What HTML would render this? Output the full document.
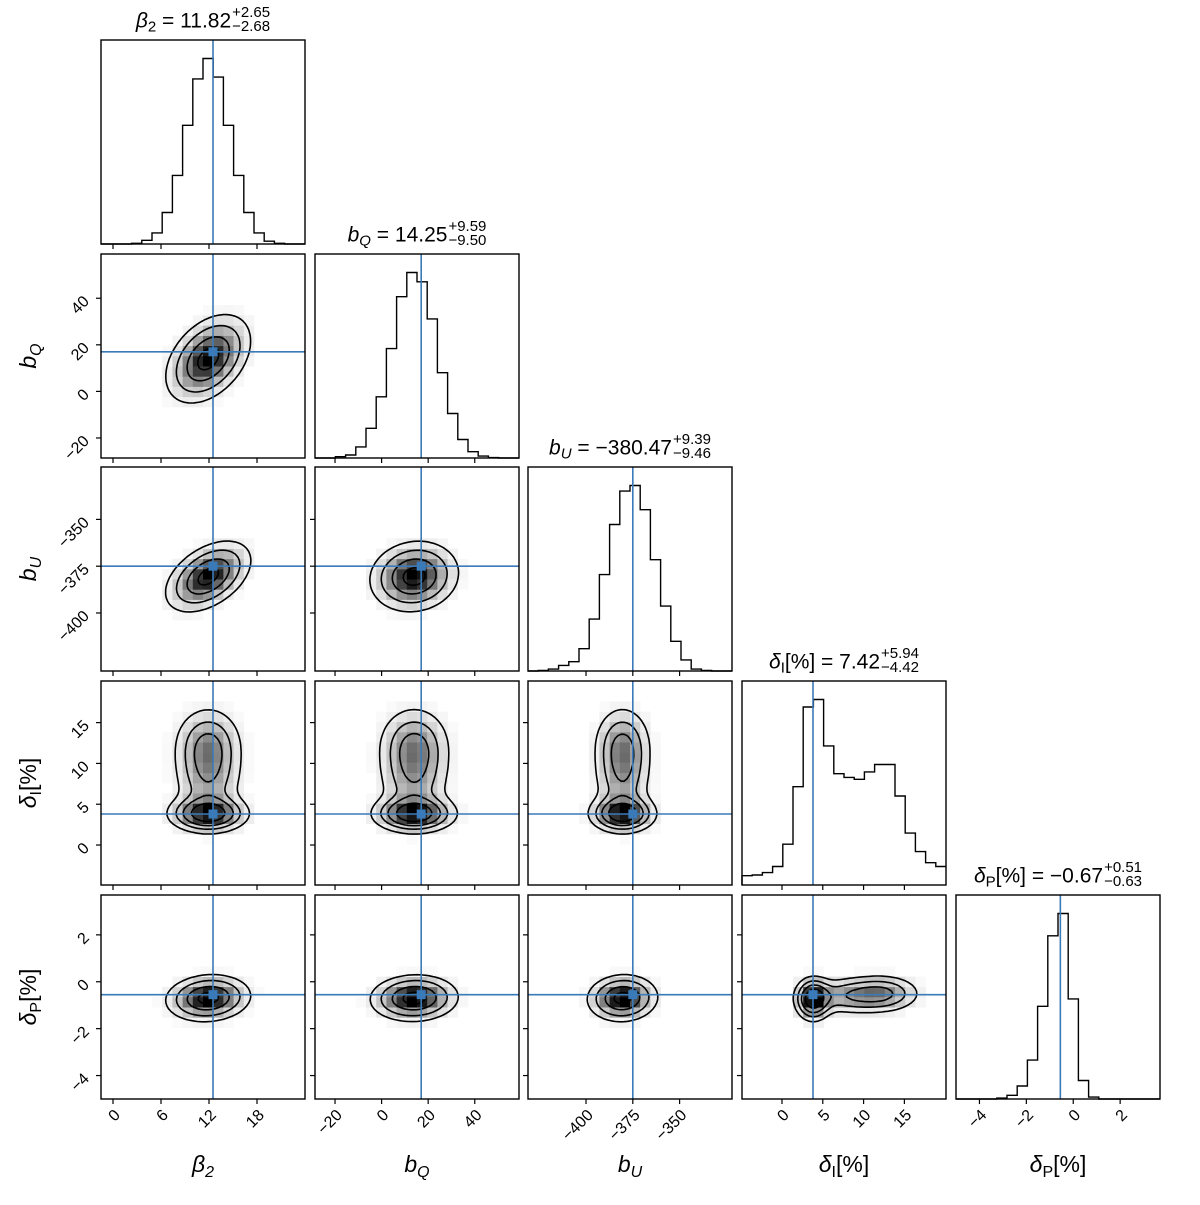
<!DOCTYPE html>
<html><head><meta charset="utf-8">
<style>
body{margin:0;background:#fff;}
#wrap{position:relative;width:1200px;height:1200px;font-family:"Liberation Sans","DejaVu Sans",sans-serif;}
.title{position:absolute;transform:translateX(-50%);font-size:21px;white-space:nowrap;color:#000;line-height:24px;}
.title sub{font-size:15px;vertical-align:-4px;}
.stk{display:inline-block;vertical-align:middle;font-size:15px;line-height:14px;margin-left:1px;position:relative;top:-2px;}
.stk span{display:block;}
svg text{font-family:"Liberation Sans","DejaVu Sans",sans-serif;}
</style></head>
<body>
<div id="wrap">
<svg id="chart" width="1200" height="1200" viewBox="0 0 1200 1200"></svg>
<div class="title" style="left:203px;top:8px"><i>β</i><sub>2</sub> = 11.82<span class="stk"><span>+2.65</span><span>−2.68</span></span></div>
<div class="title" style="left:417px;top:222px"><i>b</i><sub><i>Q</i></sub> = 14.25<span class="stk"><span>+9.59</span><span>−9.50</span></span></div>
<div class="title" style="left:630px;top:435px"><i>b</i><sub><i>U</i></sub> = −380.47<span class="stk"><span>+9.39</span><span>−9.46</span></span></div>
<div class="title" style="left:844px;top:649px"><i>δ</i><sub>I</sub>[%] = 7.42<span class="stk"><span>+5.94</span><span>−4.42</span></span></div>
<div class="title" style="left:1058px;top:863px"><i>δ</i><sub>P</sub>[%] = −0.67<span class="stk"><span>+0.51</span><span>−0.63</span></span></div>
</div>
<script>
// ---- data ----
const paramNames = ["beta2","bQ","bU","deltaI","deltaP"];
const ranges = [[-1.5,24],[-28.6,59],[-431,-322],[-4.9,20.1],[-5.0,3.7]];
const tickValues = [[0,6,12,18],[-20,0,20,40],[-400,-375,-350],[0,5,10,15],[-4,-2,0,2]];
const tickLabels = [["0","6","12","18"],["−20","0","20","40"],["−400","−375","−350"],["0","5","10","15"],["−4","−2","0","2"]];
const truths = [12.5, 17, -375, 3.8, -0.55];
const histBeta2 = [0,0,0,0.4,2,6,17,37,64,89,100,90,64,37,17,6,1.5,0.4,0,0];
const histBQ = [0,0,0.7,1.6,6,16,33,59,87,100,95,75,46,24,10,3.4,1,0.2,0,0];
const histBU = [0,0.3,1,3,5,12,28,52,79,97,100,87,60,35,16,6,1,0.3,0,0];
const histDI = [5,5.4,6.7,10,22,53,96,100,75,60,58,57,61,65,65,48,28,18,12,10];
const histDP = [0,0,0,0,0.5,2,7,21,50,88,100,54,10,1,0,0,0,0,0,0];
const means = [11.9, 14.0, -380.5, 0, -0.7];
const sds = [2.65, 9.5, 9.4, 0, 0.5];
const dIweights = [0.32, 0.34, 0.34];
const dImeans = [3.8, 8.0, 12.5];
const dIsds = [1.2, 3.0, 2.6];
const dIotherScale = [1.0, 0.9, 0.9];
const dPshift = [-0.05, 0.1, 0.2];
const corr01 = 0.4, corr02 = 0.45, corr12 = 0.1, corr04 = 0.1, corr14 = 0.05, corr24 = 0.05;
const xLabelTexts = [["β","2",true],["b","Q",true],["b","U",true],["δ","I",false],["δ","P",false]];

// ---- layout ----
const L=[101,315,528,742,956], T=[40,254,467,681,895], S=204;
const blue="#3a7ab8";
const NS="http://www.w3.org/2000/svg";
const svg=document.getElementById('chart');
function mk(tag,attrs,parent){const e=document.createElementNS(NS,tag);for(const k in attrs)e.setAttribute(k,attrs[k]);(parent||svg).appendChild(e);return e;}
function sx(j,v){const r=ranges[j];return L[j]+(v-r[0])/(r[1]-r[0])*S;}
function sy(i,v){const r=ranges[i];return T[i]+S-(v-r[0])/(r[1]-r[0])*S;}
function gauss(x,m,s){return Math.exp(-0.5*((x-m)/s)**2)/s;}
function corrOf(a,b){const k=Math.min(a,b)*10+Math.max(a,b);return {1:corr01,2:corr02,12:corr12,4:corr04,14:corr14,24:corr24}[k]||0;}
function density(xi,x,yi,y){
  if(xi!==3&&yi!==3){
    const r=corrOf(xi,yi);const u=(x-means[xi])/sds[xi],v=(y-means[yi])/sds[yi];
    return Math.exp(-0.5*(u*u-2*r*u*v+v*v)/(1-r*r));
  }
  const dv = xi===3?x:y, ov = xi===3?y:x, oi = xi===3?yi:xi;
  let s=0;
  for(let k=0;k<dIweights.length;k++){
    const m = means[oi] + (oi===4?dPshift[k]:0);
    s+=dIweights[k]*gauss(dv,dImeans[k],dIsds[k])*gauss(ov,m,sds[oi]*dIotherScale[k]);
  }
  return s;
}
const hists=[histBeta2,histBQ,histBU,histDI,histDP];
const levels=[0.118,0.393,0.675,0.865];

for(let i=0;i<5;i++){
  for(let j=0;j<=i;j++){
    const g=mk('g',{});
    
    
    if(i===j){
      const h=hists[i];const mx=Math.max(...h);
      const r=ranges[i];const bw=(r[1]-r[0])/h.length;
      let d='M'+L[i]+','+(T[i]+S);
      for(let b=0;b<h.length;b++){
        const y=T[i]+S-h[b]/(mx*1.1)*S;
        const x0=sx(i,r[0]+b*bw),x1=sx(i,r[0]+(b+1)*bw);
        d+=' L'+x0.toFixed(1)+','+y.toFixed(1)+' L'+x1.toFixed(1)+','+y.toFixed(1);
      }
      const p=mk('path',{d:d,fill:'none',stroke:'#000','stroke-width':1.4},g);
      
      
      const tl=mk('line',{x1:sx(i,truths[i]),x2:sx(i,truths[i]),y1:T[i],y2:T[i]+S,stroke:blue,'stroke-width':1.6},g);
      
      
    } else {
      const rx=ranges[j],ry=ranges[i];
      const NB=20;let cells=[],cmax=0;
      for(let a=0;a<NB;a++)for(let b=0;b<NB;b++){
        const x=rx[0]+(a+0.5)*(rx[1]-rx[0])/NB,y=ry[0]+(b+0.5)*(ry[1]-ry[0])/NB;
        const d=density(j,x,i,y);cells.push([a,b,d]);if(d>cmax)cmax=d;
      }
      const cw=S/NB;
      for(const c of cells){
        const f=c[2]/cmax;const gv=Math.round(255*(1-Math.pow(f,1.4)));
        if(gv>250)continue;
        const rc=mk('rect',{x:(L[j]+c[0]*cw).toFixed(1),y:(T[i]+S-(c[1]+1)*cw).toFixed(1),width:cw+0.3,height:cw+0.3,fill:'rgb('+gv+','+gv+','+gv+')'},g);
        
        
      }
      const N=70;const grid=[];const vals=[];
      for(let a=0;a<=N;a++){grid.push([]);for(let b=0;b<=N;b++){
        const x=rx[0]+a*(rx[1]-rx[0])/N,y=ry[0]+b*(ry[1]-ry[0])/N;
        const d=density(j,x,i,y);grid[a].push(d);vals.push(d);}}
      const sorted=vals.slice().sort((p,q)=>q-p);const tot=sorted.reduce((p,q)=>p+q,0);
      const thr=[];
      for(const lv of levels){let c=0;for(const v of sorted){c+=v;if(c>=lv*tot){thr.push(v);break;}}}
      let d='';
      const px=a=>L[j]+a*S/N, py=b=>T[i]+S-b*S/N;
      for(const t of thr){
        for(let a=0;a<N;a++)for(let b=0;b<N;b++){
          const c=[[a,b],[a+1,b],[a+1,b+1],[a,b+1]];
          const pts=[];
          for(let e=0;e<4;e++){
            const p=c[e],q=c[(e+1)%4];const vp=grid[p[0]][p[1]],vq=grid[q[0]][q[1]];
            if((vp>t)!==(vq>t)){const f=(t-vp)/(vq-vp);
              pts.push([px(p[0]+f*(q[0]-p[0])),py(p[1]+f*(q[1]-p[1]))]);}
          }
          for(let k=0;k+1<pts.length;k+=2)
            d+='M'+pts[k][0].toFixed(1)+','+pts[k][1].toFixed(1)+'L'+pts[k+1][0].toFixed(1)+','+pts[k+1][1].toFixed(1);
        }
      }
      const cp=mk('path',{d:d,fill:'none',stroke:'#000','stroke-width':1.6,'stroke-linecap':'round'},g);
      
      
      const vx=sx(j,truths[j]),hy=sy(i,truths[i]);
      const l1=mk('line',{x1:vx,x2:vx,y1:T[i],y2:T[i]+S,stroke:blue,'stroke-width':1.6},g);
      
      
      const l2=mk('line',{x1:L[j],x2:L[j]+S,y1:hy,y2:hy,stroke:blue,'stroke-width':1.6},g);
      
      
      const m=mk('rect',{x:vx-4.5,y:hy-4.5,width:9,height:9,fill:blue},g);
      
      
    }
    const fr=mk('rect',{x:L[j],y:T[i],width:S,height:S,fill:'none',stroke:'#000','stroke-width':1.4},g);
    
    
    tickValues[j].forEach((v,k)=>{
      const x=sx(j,v);
      mk('line',{x1:x,x2:x,y1:T[i]+S,y2:T[i]+S+5,stroke:'#000','stroke-width':1.2},g);
      if(i===4){
        const t=mk('text',{x:x+8,y:T[i]+S+17,'text-anchor':'end','font-size':16,transform:'rotate(-45 '+(x+8)+' '+(T[i]+S+17)+')'},g);
        t.textContent=tickLabels[j][k];
        
        
      }
    });
    if(i!==j){
      tickValues[i].forEach((v,k)=>{
        const y=sy(i,v);
        mk('line',{x1:L[j]-5,x2:L[j],y1:y,y2:y,stroke:'#000','stroke-width':1.2},g);
        if(j===0){
          const ax=L[j]-11,ay=y+4;
          const t=mk('text',{x:ax,y:ay,'text-anchor':'end','font-size':16,transform:'rotate(-45 '+ax+' '+ay+')'},g);
          t.textContent=tickLabels[i][k];
          
          
        }
      });
    }
  }
}
function axisLabel(idx,x,y,rot,name){
  const lt=xLabelTexts[idx];
  const t=mk('text',{x:x,y:y,'text-anchor':'middle','font-size':23});
  if(rot)t.setAttribute('transform','rotate(-90 '+x+' '+y+')');
  
  
  const a=mk('tspan',{'font-style':'italic'},t);a.textContent=lt[0];
  const b=mk('tspan',{'font-size':16,dy:5,'font-style':lt[2]?'italic':'normal'},t);b.textContent=lt[1];
  if(idx>=3){const c=mk('tspan',{dy:-5},t);c.textContent='[%]';}
}
for(let j=0;j<5;j++)axisLabel(j,L[j]+S/2,1172,false,'x-axis-title-'+paramNames[j]);
for(let i=1;i<5;i++)axisLabel(i,36,T[i]+S/2,true,'y-axis-title-'+paramNames[i]);
</script>
</body></html>
